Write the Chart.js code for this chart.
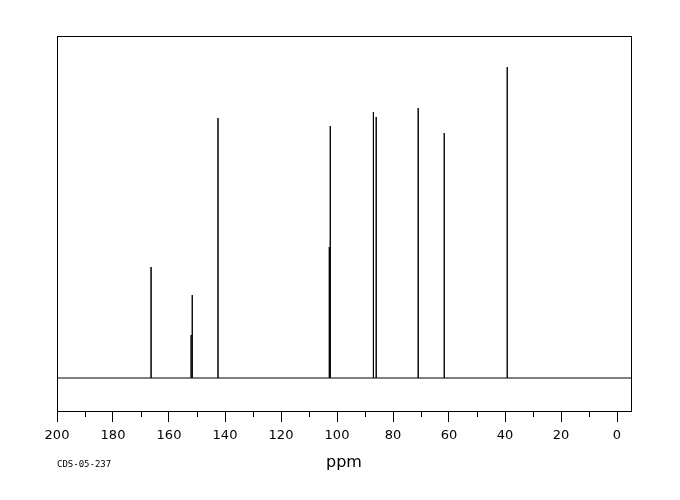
<!DOCTYPE html>
<html>
<head>
<meta charset="utf-8">
<script src="https://cdn.jsdelivr.net/npm/chart.js@4/dist/chart.umd.min.js"></script>
<style>
  html, body { margin: 0; padding: 0; background: #fff; }
  canvas { display: block; }
</style>
</head>
<body>
<canvas id="espectro" width="680" height="500"></canvas>
<script>
// desplazamientos quimicos (ppm) y alturas de los picos
const desplazamientos = [166.4, 152.1, 151.7, 142.5, 102.75, 102.4, 87.0, 86.0, 71.0, 61.7, 39.2];
const intensidades = [111, 43, 83, 260, 131, 252, 266, 261, 270, 245, 311];
const ejeMin = -5;
const ejeMax = 200;
const codigo = "CDS-05-237";

// linea base + cada pico como una raya vertical
const puntos = [{ x: ejeMax, y: 0 }];
desplazamientos.forEach((p, i) => {
	puntos.push({ x: p, y: 0 }, { x: p, y: intensidades[i] }, { x: p, y: 0 });
});
puntos.push({ x: ejeMin, y: 0 });

// marco y ticks menores (cada 10 ppm)
const marco = {
	id: "marco",
	afterDraw(chart) {
		const { ctx, chartArea: a } = chart;
		const x = chart.scales.x;
		ctx.save();
		ctx.strokeStyle = "#000";
		ctx.lineWidth = 1;
		ctx.strokeRect(a.left + 0.5, a.top + 0.5, a.right - a.left, a.bottom - a.top);
		ctx.beginPath();
		for (let v = 10; v < ejeMax; v += 20) {
			const px = Math.round(x.getPixelForValue(v)) + 0.5;
			ctx.moveTo(px, a.bottom);
			ctx.lineTo(px, a.bottom + 6);
		}
		ctx.stroke();
		ctx.fillStyle = "#000";
		ctx.font = "9px 'DejaVu Sans Mono'";
		ctx.textBaseline = "middle";
		ctx.fillText(codigo, 57, 465);
		ctx.restore();
	}
};

new Chart(document.getElementById("espectro"), {
	type: "scatter",
	data: {
		datasets: [{
			data: puntos,
			showLine: true,
			borderColor: "#000",
			borderWidth: 1,
			pointRadius: 0,
			tension: 0
		}]
	},
	options: {
		responsive: false,
		animation: false,
		layout: { padding: { left: 57, top: 36, right: 49, bottom: 0 } },
		plugins: { legend: { display: false }, tooltip: { enabled: false } },
		scales: {
			x: {
				type: "linear",
				reverse: true,
				min: ejeMin,
				max: ejeMax,
				afterFit: (s) => { s.height = 89; },
				afterBuildTicks: (s) => {
					s.ticks = [];
					for (let v = 0; v <= ejeMax; v += 20) s.ticks.push({ value: v });
				},
				border: { display: false },
				grid: { drawOnChartArea: false, tickLength: 11, color: "#000", tickWidth: 1 },
				ticks: {
					color: "#000",
					font: { family: "'DejaVu Sans'", size: 13 },
					padding: 6,
					maxRotation: 0,
					autoSkip: false
				},
				title: {
					display: true,
					text: "ppm",
					color: "#000",
					font: { family: "'DejaVu Sans'", size: 16 },
					padding: { top: 0, bottom: 28 }
				}
			},
			y: {
				display: false,
				min: -33,
				max: 342
			}
		}
	},
	plugins: [marco]
});
</script>
</body>
</html>
